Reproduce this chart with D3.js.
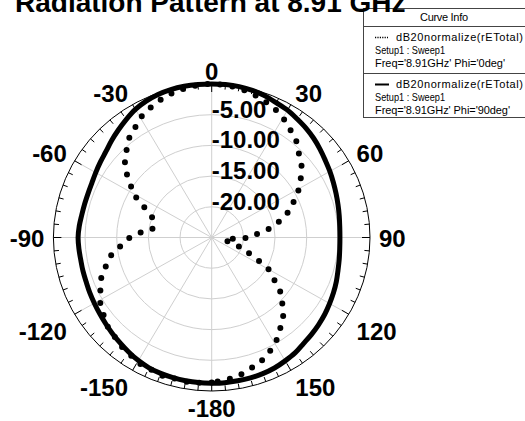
<!DOCTYPE html>
<html>
<head>
<meta charset="utf-8">
<script src="https://cdn.jsdelivr.net/npm/d3@7"></script>
<style>
  body { margin: 0; background: #fff; }
  text { font-family: "Liberation Sans", Arial, sans-serif; }
</style>
</head>
<body>
<div id="chart"></div>
<script>
// angle in degrees (clockwise from top), values in dB (normalized)
const angles = [-180,-175,-170,-165,-160,-155,-150,-145,-140,-135,-130,-125,-120,-115,-110,-105,-100,-95,-90,-85,-80,-75,-70,-65,-60,-55,-50,-45,-40,-35,-30,-25,-20,-15,-10,-5,
  0,5,10,15,20,25,30,35,40,45,50,55,60,65,70,75,80,85,90,95,100,105,110,115,120,125,130,135,140,145,150,155,160,165,170,175,180];

// Phi = 0deg (dotted)
const phi0 = [-1.4,-1.25,-1.2,-1.3,-1.2,-1.5,-1.55,-2.1,-2.3,-2.9,-3.2,-4.0,-4.6,-5.65,-6.5,-7.8,-8.95,-10.7,-12.1,-14.1,-15.7,-15.5,-14.9,-13.2,-10.8,-9.2,-7.1,-5.9,-4.45,-3.6,-2.5,-1.8,-1.2,-0.7,-0.35,-0.1,
  0,-0.1,-0.3,-0.7,-1.2,-1.75,-2.5,-3.45,-4.3,-5.55,-6.5,-7.8,-9.1,-10.6,-11.9,-13.6,-15.4,-17.7,-19.2,-22.2,-23.0,-22.0,-19.9,-17.9,-14.6,-12.9,-10.7,-9.2,-7.5,-6.4,-5.0,-4.1,-3.2,-2.7,-2.0,-1.7,-1.4];

// Phi = 90deg (solid)
const phi90 = [-1.25,-1.28,-1.32,-1.38,-1.45,-1.58,-1.85,-2.2,-2.55,-2.85,-3.15,-3.4,-3.6,-3.75,-3.9,-3.95,-4.0,-3.95,-3.9,-4.0,-4.15,-4.2,-4.2,-4.1,-3.85,-3.55,-3.2,-2.65,-2.1,-1.5,-0.9,-0.5,-0.2,-0.05,0,0,
  0,0,-0.05,-0.2,-0.45,-0.8,-1.05,-1.45,-1.8,-2.2,-2.65,-3.1,-3.45,-3.8,-4.1,-4.35,-4.55,-4.7,-4.75,-4.7,-4.55,-4.35,-4.05,-3.77,-3.5,-3.2,-2.95,-2.7,-2.45,-2.05,-1.8,-1.55,-1.4,-1.33,-1.3,-1.27,-1.25];

const angleTicks = [-180,-150,-120,-90,-60,-30,0,30,60,90,120,150];
const radialTicks = [-5,-10,-15,-20];
const gridRings = [-5,-10,-15,-20];

const title = "Radiation Pattern at 8.91 GHz";
const legendRows = [
  { style: "dot",   name: "dB20normalize(rETotal)", setup: "Setup1 : Sweep1", freq: "Freq='8.91GHz' Phi='0deg'" },
  { style: "solid", name: "dB20normalize(rETotal)", setup: "Setup1 : Sweep1", freq: "Freq='8.91GHz' Phi='90deg'" }
];

const W = 525, H = 421;
const cx = 211.7, cy = 237.5, rx = 158.3, ry = 153.5;

const svg = d3.select("#chart").append("svg")
  .attr("width", W).attr("height", H);

const r = d3.scaleLinear().domain([-25, 0]).range([0, 1]);
const rad = d => d * Math.PI / 180;
const px = (a, v) => cx + rx * r(v) * Math.sin(rad(a));
const py = (a, v) => cy - ry * r(v) * Math.cos(rad(a));

// grid rings
svg.append("g").selectAll("ellipse")
  .data(gridRings)
  .join("ellipse")
  .attr("cx", cx).attr("cy", cy)
  .attr("rx", d => rx * r(d)).attr("ry", d => ry * r(d))
  .attr("fill", "none").attr("stroke", "#cfcfcf").attr("stroke-width", 1);

// spokes
svg.append("g").selectAll("line")
  .data(angleTicks)
  .join("line")
  .attr("x1", cx).attr("y1", cy)
  .attr("x2", d => px(d, 0)).attr("y2", d => py(d, 0))
  .attr("stroke", "#cfcfcf").attr("stroke-width", 1);

// outer ring
svg.append("ellipse")
  .attr("cx", cx).attr("cy", cy).attr("rx", rx).attr("ry", ry)
  .attr("fill", "none").attr("stroke", "#000").attr("stroke-width", 1);

// minor ticks every 5 deg, inward
const minor = angles.slice(0, -1);
svg.append("g").selectAll("line")
  .data(minor)
  .join("line")
  .attr("x1", d => px(d, 0)).attr("y1", d => py(d, 0))
  .attr("x2", d => cx + (rx - (d % 30 === 0 ? 8 : 5)) * Math.sin(rad(d)))
  .attr("y2", d => cy - (ry - (d % 30 === 0 ? 8 : 5)) * Math.cos(rad(d)))
  .attr("stroke", "#000").attr("stroke-width", 1);

// curves
const line = d3.line()
  .x(d => px(d[0], d[1]))
  .y(d => py(d[0], d[1]))
  .curve(d3.curveCatmullRom);

svg.append("path")
  .datum(angles.map((a, i) => [a, phi90[i]]))
  .attr("d", line)
  .attr("fill", "none").attr("stroke", "#000").attr("stroke-width", 5);

svg.append("path")
  .datum(angles.map((a, i) => [a, phi0[i]]))
  .attr("d", line)
  .attr("fill", "none").attr("stroke", "#000").attr("stroke-width", 6)
  .attr("stroke-linecap", "round")
  .attr("stroke-dasharray", "0 12.5");

// radial labels
svg.append("g").selectAll("text")
  .data(radialTicks)
  .join("text")
  .attr("x", cx)
  .attr("y", d => cy - ry * r(d) + 3)
  .attr("font-size", 24).attr("font-weight", "bold")
  .text(d => d.toFixed(2));

// angle labels
svg.append("g").selectAll("text")
  .data(angleTicks)
  .join("text")
  .attr("x", d => px(d, 0) + 9 * Math.sin(rad(d)))
  .attr("y", d => {
    const c = Math.cos(rad(d));
    const off = c > 0.1 ? 7 - 11 * c : (c < -0.1 ? 25.5 : 9.5);
    return py(d, 0) + off;
  })
  .attr("text-anchor", d => {
    const s = Math.sin(rad(d));
    return s > 0.01 ? "start" : (s < -0.01 ? "end" : "middle");
  })
  .attr("font-size", 24).attr("font-weight", "bold")
  .text(d => d);

// legend
const lg = svg.append("g");
lg.append("rect")
  .attr("x", 363.5).attr("y", 8.5).attr("width", 180).attr("height", 109)
  .attr("fill", "#fff").attr("stroke", "#444").attr("stroke-width", 1);
lg.append("line").attr("x1", 363.5).attr("x2", 530).attr("y1", 26.5).attr("y2", 26.5)
  .attr("stroke", "#444");
lg.append("line").attr("x1", 363.5).attr("x2", 530).attr("y1", 73.5).attr("y2", 73.5)
  .attr("stroke", "#444");
lg.append("text").attr("x", 420).attr("y", 21)
  .attr("font-size", 11).attr("textLength", 48).attr("lengthAdjust", "spacing")
  .text("Curve Info");

legendRows.forEach((row, i) => {
  const y0 = 41 + i * 47;
  if (row.style === "dot") {
    lg.append("line").attr("x1", 375).attr("x2", 388).attr("y1", y0 - 3.5).attr("y2", y0 - 3.5)
      .attr("stroke", "#000").attr("stroke-width", 1.3).attr("stroke-dasharray", "1.2 1.2");
  } else {
    lg.append("line").attr("x1", 375).attr("x2", 389).attr("y1", y0 - 3.5).attr("y2", y0 - 3.5)
      .attr("stroke", "#000").attr("stroke-width", 2);
  }
  lg.append("text").attr("x", 396).attr("y", y0).attr("font-size", 11)
    .attr("textLength", 127).attr("lengthAdjust", "spacing").text(row.name);
  lg.append("text").attr("x", 375).attr("y", y0 + 12.5).attr("font-size", 10.5)
    .attr("textLength", 70).attr("lengthAdjust", "spacingAndGlyphs").text(row.setup);
  lg.append("text").attr("x", 375).attr("y", y0 + 26).attr("font-size", 11)
    .attr("textLength", i === 0 ? 130 : 135).attr("lengthAdjust", "spacing").text(row.freq);
});

// title (partly cut at top), drawn over the legend
svg.append("text")
  .attr("x", 15).attr("y", 12)
  .attr("font-size", 28).attr("font-weight", "bold")
  .text(title);
</script>
</body>
</html>
